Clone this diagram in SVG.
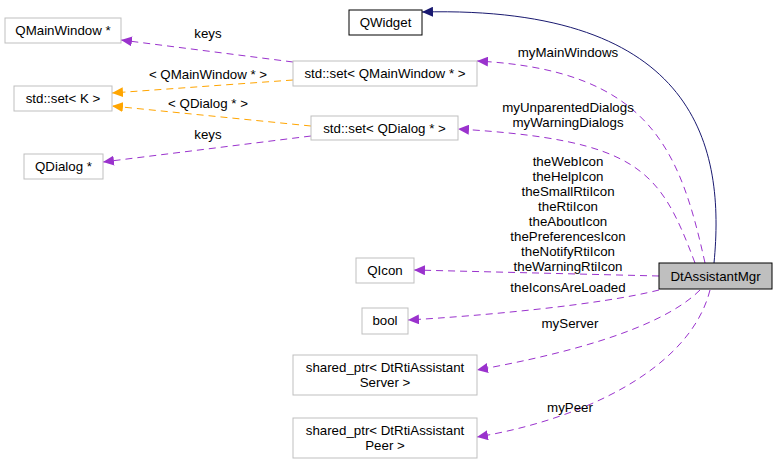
<svg xmlns="http://www.w3.org/2000/svg" width="779" height="471" viewBox="0 0 779 471">
<style>
text{font-family:"Liberation Sans",Arial,sans-serif;font-size:13.3px;fill:#000;text-anchor:middle}
.n{fill:#fff;stroke:#bfbfbf}
.p{fill:none;stroke:#9a32cd;stroke-dasharray:7,5}
.o{fill:none;stroke:#ffa500;stroke-dasharray:7,5}
</style>
<defs>
<marker id="mp" markerWidth="12" markerHeight="10" refX="11" refY="5" orient="auto" markerUnits="userSpaceOnUse"><path d="M0,0 L11,5 L0,10z" fill="#9a32cd"/></marker>
<marker id="mo" markerWidth="12" markerHeight="10" refX="11" refY="5" orient="auto" markerUnits="userSpaceOnUse"><path d="M0,0 L11,5 L0,10z" fill="#ffa500"/></marker>
<marker id="mn" markerWidth="12" markerHeight="10" refX="11" refY="5" orient="auto" markerUnits="userSpaceOnUse"><path d="M0,0 L11,5 L0,10z" fill="#191970"/></marker>
</defs>
<rect width="779" height="471" fill="#fff"/>
<g id="edges">
<path d="M714,263 C725,150 700,5 422,12" fill="none" stroke="#191970" marker-end="url(#mn)"/>
<path class="p" d="M705,263 C680,150 650,70 477,61" marker-end="url(#mp)"/>
<path class="p" d="M695,263 C660,170 640,140 458,129" marker-end="url(#mp)"/>
<path class="p" d="M659,276 L414,270" marker-end="url(#mp)"/>
<path class="p" d="M659,290 C600,305 480,316 408,320" marker-end="url(#mp)"/>
<path class="p" d="M700,290 C660,330 560,355 477,370" marker-end="url(#mp)"/>
<path class="p" d="M710,290 C690,370 580,420 477,437" marker-end="url(#mp)"/>
<path class="p" d="M293,62 L121,40" marker-end="url(#mp)"/>
<path class="o" d="M293,80 L112,93" marker-end="url(#mo)"/>
<path class="o" d="M311,126 L112,106" marker-end="url(#mo)"/>
<path class="p" d="M311,136 L103,162" marker-end="url(#mp)"/>
<text x="208" y="38">keys</text>
<text x="208" y="79">&lt; QMainWindow * &gt;</text>
<text x="208" y="108">&lt; QDialog * &gt;</text>
<text x="208" y="139">keys</text>
<text x="568" y="57">myMainWindows</text>
<text x="568" y="112">myUnparentedDialogs</text>
<text x="568" y="127">myWarningDialogs</text>
<text x="568" y="166">theWebIcon</text>
<text x="568" y="181">theHelpIcon</text>
<text x="568" y="196">theSmallRtiIcon</text>
<text x="568" y="211">theRtiIcon</text>
<text x="568" y="226">theAboutIcon</text>
<text x="568" y="241">thePreferencesIcon</text>
<text x="568" y="256">theNotifyRtiIcon</text>
<text x="568" y="271">theWarningRtiIcon</text>
<text x="568" y="292">theIconsAreLoaded</text>
<text x="570" y="328">myServer</text>
<text x="570" y="412">myPeer</text>
</g>
<g id="QWidget"><rect x="349" y="10" width="73" height="25" fill="#fff" stroke="#000"/><text x="385.5" y="27">QWidget</text></g>
<g id="QMainWindowPtr"><rect class="n" x="5" y="18" width="116" height="25"/><text x="63" y="35">QMainWindow *</text></g>
<g id="SetQMainWindow"><rect class="n" x="293" y="61" width="184" height="25"/><text x="385" y="78">std::set&lt; QMainWindow * &gt;</text></g>
<g id="SetK"><rect class="n" x="14" y="86" width="98" height="25"/><text x="63" y="103">std::set&lt; K &gt;</text></g>
<g id="SetQDialog"><rect class="n" x="311" y="116" width="147" height="24"/><text x="384.5" y="133">std::set&lt; QDialog * &gt;</text></g>
<g id="QDialogPtr"><rect class="n" x="24" y="154" width="79" height="25"/><text x="63.5" y="171">QDialog *</text></g>
<g id="QIcon"><rect class="n" x="356" y="258" width="58" height="25"/><text x="385" y="275">QIcon</text></g>
<g id="bool"><rect class="n" x="362" y="308" width="46" height="26"/><text x="385" y="325">bool</text></g>
<g id="Server"><rect class="n" x="293" y="355" width="184" height="40"/><text x="385" y="372">shared_ptr&lt; DtRtiAssistant</text><text x="385" y="387">Server &gt;</text></g>
<g id="Peer"><rect class="n" x="293" y="418" width="184" height="40"/><text x="385" y="435">shared_ptr&lt; DtRtiAssistant</text><text x="385" y="450">Peer &gt;</text></g>
<g id="DtAssistantMgr"><rect x="659" y="263" width="113" height="26" fill="#bfbfbf" stroke="#000"/><text x="715.5" y="281">DtAssistantMgr</text></g>
</svg>
